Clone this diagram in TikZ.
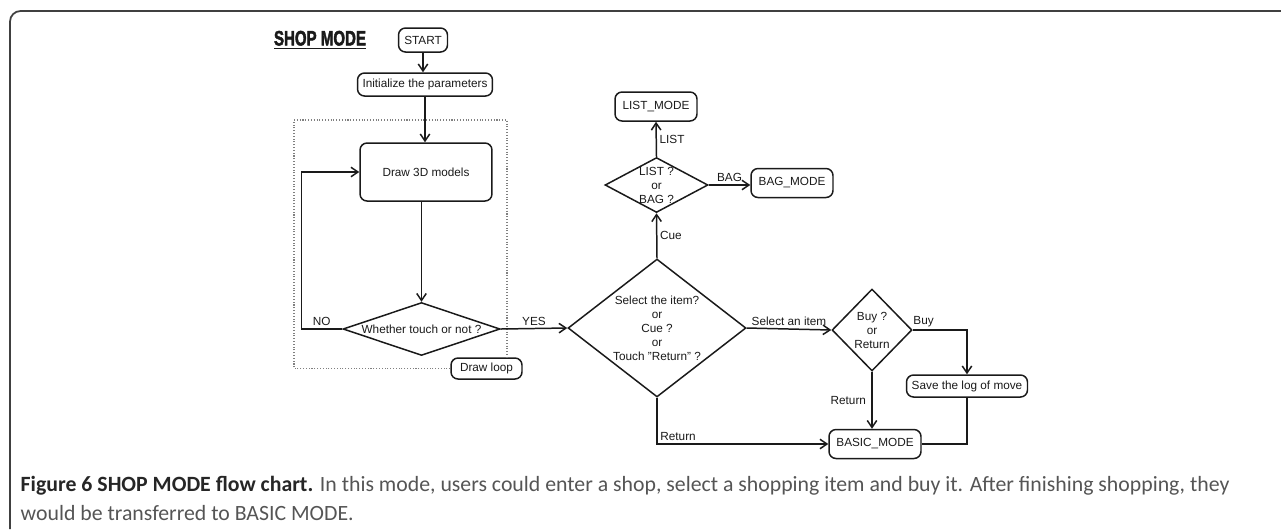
\documentclass[tikz,border=0pt]{standalone}
\usepackage{fontspec}
\usepackage{graphicx}
\setmainfont{Liberation Sans}
\newfontfamily\capfont{Carlito}
\newfontfamily\titlefont[FakeBold=2.5]{Liberation Sans Bold}
\usepackage{tikz}
\usetikzlibrary{arrows.meta,positioning,shapes.geometric}
\usepackage{xcolor}
\definecolor{ink}{HTML}{1A1A1A}
\definecolor{capgray}{HTML}{555555}
\newcommand\diagfont{\fontsize{6.7}{8}\selectfont}

\begin{document}
\begin{tikzpicture}[x=0.02cm, y=-0.02cm, line width=0.85pt, color=ink,
  modebox/.style={draw, rounded corners=4pt, inner sep=0pt, font=\diagfont},
  decision/.style={draw, diamond, inner sep=0pt, font=\diagfont},
  lbl/.style={font=\diagfont, inner sep=1.5pt},
  flow/.style={-{Straight Barb[length=1.4mm,width=1.9mm]}},
  loopline/.style={densely dotted, line width=0.6pt, draw=gray}]
  \useasboundingbox (0,0) rectangle (1281,529);
  % outer frame
  \draw[line width=1pt, color=black!75, rounded corners=6pt] (10,529) -- (10,11) -- (1281,11);

  \node[font=\titlefont\fontsize{11.9}{12}\selectfont] (title) at (320,40) {\scalebox{0.72}[1]{\underline{SHOP MODE}}};

  % main column
  \node[modebox, minimum width=0.98cm, minimum height=0.48cm] (start) at (423,40) {START};
  \node[modebox, minimum width=2.7cm, minimum height=0.46cm] (init) at (425,84.5) {Initialize the parameters};
  \node[modebox, minimum width=2.64cm, minimum height=1.16cm] (models) at (426,172) {Draw 3D models};
  \node[decision, minimum width=3.14cm, minimum height=1.06cm,
        label={[lbl]center:Whether touch or not ?}] (touch) at (421.5,329) {};
  \node[modebox, minimum width=1.42cm, minimum height=0.42cm, fill=white] (drawloop) at (486.5,368.5) {Draw loop};

  % dotted loop frame
  \coordinate (loopnw) at (294,120);
  \coordinate (loopne) at (507,120);
  \draw[loopline] (drawloop.west) -| (loopnw) -- (loopne) -- (loopne |- drawloop.north);

  % decisions
  \node[decision, minimum width=3.56cm, minimum height=2.76cm,
        label={[lbl, align=center]center:{Select the item?\\or\\Cue ?\\or\\Touch "Return" ?}}] (sel) at (657,328) {};
  \node[decision, minimum width=2.06cm, minimum height=1.1cm,
        label={[lbl, align=center]center:{LIST ?\\or\\BAG ?}}] (lb) at (656.5,185) {};
  \node[decision, minimum width=1.6cm, minimum height=1.64cm,
        label={[lbl, align=center]center:{Buy ?\\or\\Return}}] (buy) at (872,330) {};

  % target modes
  \node[modebox, minimum width=1.64cm, minimum height=0.58cm] (listmode) at (656,106.5) {LIST\_MODE};
  \node[modebox, minimum width=1.64cm, minimum height=0.58cm] (bagmode) at (792,183) {BAG\_MODE};
  \node[modebox, minimum width=1.84cm, minimum height=0.58cm] (basic) at (875,444) {BASIC\_MODE};
  \node[modebox, minimum width=2.42cm, minimum height=0.44cm] (save) at (967,386) {Save the log of move};

  % connectors
  \draw[flow] (start) -- (start |- init.north);
  \draw[flow] (init) -- (init |- models.north);
  \draw[flow] (models.south -| touch) -- (touch.north);
  \draw[flow] (touch.west) -- node[lbl, above] {NO} ++(-41,0) |- (models.west);
  \draw[flow] (touch.east) -- node[lbl, above] {YES} (sel.west);
  \draw[flow] (sel.north) -- node[lbl, right] {Cue} (lb.south);
  \draw[flow] (lb.north) -- node[lbl, right] {LIST} (listmode.south);
  \draw[flow] (lb.east) -- node[lbl, above] {BAG} (lb.east -| bagmode.west);
  \draw[flow] (sel.east) -- node[lbl, above] {Select an item} (buy.west);
  \draw[flow] (buy.south) -- node[lbl, left, inner sep=3pt] {Return} (buy.south |- basic.north);
  \draw[flow] (sel.south) |- node[lbl, above right] {Return} (basic.west);
  \draw[flow] (buy.east) -| node[lbl, pos=0.1, above] {Buy} (save.north);
  \draw (save.south) |- (basic.east);

  % caption
  \node[anchor=west, inner sep=0pt, text=capgray] (caption) at (20,500)
    {\resizebox{24.18cm}{!}{\capfont\fontsize{10}{13.5}\selectfont\begin{tabular}{@{}l@{}}%
    \textcolor{black!85}{\textbf{Figure 6 SHOP MODE flow chart.}} In this mode, users could enter a shop, select a shopping item and buy it. After finishing shopping, they\\
    would be transferred to BASIC MODE.\end{tabular}}};
\end{tikzpicture}
\end{document}
